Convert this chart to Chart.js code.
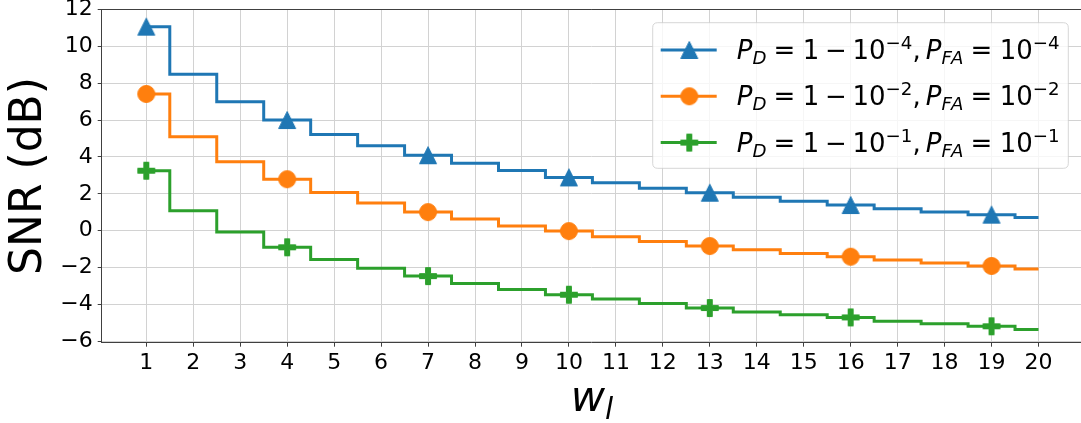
<!DOCTYPE html>
<html><head><meta charset="utf-8">
<script src="https://cdn.jsdelivr.net/npm/chart.js@4.4.1/dist/chart.umd.min.js"></script>
<style>
html,body{margin:0;padding:0;background:#fff;overflow:hidden}
#wrap{position:relative;width:1081px;height:423px}
#c{position:absolute;left:0;top:0}
.math{position:absolute;white-space:nowrap;line-height:0;font-family:'DejaVu Sans';color:#000}
.it{font-style:italic}
.sb{position:relative;font-size:70%}
.rel{margin:0 0.2777em}
.bin{margin:0 0.2222em}
.cm{margin-right:0.2em}
</style>
</head><body>
<div id="wrap">
<canvas id="c" width="1081" height="423"></canvas>
<div id="legtext"></div>
<div class="math" id="xlabel" style="left:592px;top:397px;font-size:42px;transform:translateX(-50%)"><span class="it">w</span><span class="sb it" style="top:7.6px">l</span></div>
</div>
<script>
// ---- data ----
const X = [1,2,3,4,5,6,7,8,9,10,11,12,13,14,15,16,17,18,19,20];
const SNR_PD4 = [11.06, 8.48, 6.99, 6.00, 5.22, 4.60, 4.09, 3.65, 3.26, 2.89, 2.60, 2.30, 2.06, 1.81, 1.59, 1.39, 1.19, 1.01, 0.87, 0.71];
const SNR_PD2 = [7.41, 5.09, 3.74, 2.79, 2.07, 1.50, 1.01, 0.64, 0.25, -0.02, -0.33, -0.58, -0.83, -1.03, -1.24, -1.41, -1.59, -1.75, -1.91, -2.08];
const SNR_PD1 = [3.25, 1.08, -0.07, -0.90, -1.56, -2.04, -2.46, -2.86, -3.18, -3.47, -3.70, -3.94, -4.19, -4.41, -4.56, -4.70, -4.91, -5.04, -5.18, -5.35];
const SERIES_EXP = ['4', '2', '1'];
const X_TICKS = [1,2,3,4,5,6,7,8,9,10,11,12,13,14,15,16,17,18,19,20];
const Y_TICKS = [-6,-4,-2,0,2,4,6,8,10,12];
const Y_TITLE = 'SNR (dB)';

// ---- styles ----
const COLORS = ['#1f77b4', '#ff7f0e', '#2ca02c'];
const FONT = 'DejaVu Sans';
const SPINE = '#404040';
const GRID = '#d2d2d2';

function makeMarker(kind, color) {
  const s = 20, m = s / 2;
  const c = document.createElement('canvas');
  c.width = s; c.height = s;
  const g = c.getContext('2d');
  g.fillStyle = color; g.strokeStyle = color; g.lineWidth = 1; g.lineJoin = 'miter';
  g.beginPath();
  if (kind === 'tri') {
    const h = 8.5;
    g.moveTo(m, m - h); g.lineTo(m - h, m + h); g.lineTo(m + h, m + h); g.closePath();
  } else if (kind === 'circ') {
    g.arc(m, m, 8.5, 0, Math.PI * 2);
  } else {
    const e = 8.5, w = 2.5;
    g.moveTo(m - w, m - e); g.lineTo(m + w, m - e); g.lineTo(m + w, m - w); g.lineTo(m + e, m - w);
    g.lineTo(m + e, m + w); g.lineTo(m + w, m + w); g.lineTo(m + w, m + e); g.lineTo(m - w, m + e);
    g.lineTo(m - w, m + w); g.lineTo(m - e, m + w); g.lineTo(m - e, m - w); g.lineTo(m - w, m - w);
    g.closePath();
  }
  g.fill(); g.stroke();
  return c;
}
const MARKERS = [makeMarker('tri', COLORS[0]), makeMarker('circ', COLORS[1]), makeMarker('plus', COLORS[2])];
const SERIES = [SNR_PD4, SNR_PD2, SNR_PD1];

const datasets = SERIES.map((ys, i) => ({
  label: 'P_D = 1 - 10^-' + SERIES_EXP[i] + ', P_FA = 10^-' + SERIES_EXP[i],
  data: X.map((x, j) => ({ x: x, y: ys[j] })),
  borderColor: COLORS[i],
  backgroundColor: COLORS[i],
  borderWidth: 3,
  stepped: 'middle',
  fill: false,
  pointStyle: MARKERS[i],
  pointRadius: ctx => (ctx.dataIndex % 3 === 0 ? 9 : 0),
  pointHoverRadius: 0,
  order: 2 - i
}));

// legend text (real HTML text)
const LEG_LEFT = 736.7, LEG_ROW0 = 50, LEG_PITCH = 46.3;
const legDiv = document.getElementById('legtext');
SERIES_EXP.forEach((e, i) => {
  const d = document.createElement('div');
  d.className = 'math';
  d.style.left = LEG_LEFT + 'px';
  d.style.top = (LEG_ROW0 + i * LEG_PITCH) + 'px';
  d.style.fontSize = '26px';
  d.innerHTML = '<span class="it">P</span><span class="sb it" style="top:5px">D</span>' +
    '<span class="rel">=</span>1<span class="bin">\u2212</span>10' +
    '<span class="sb" style="top:-10px">\u2212' + e + '</span><span class="cm">,</span>' +
    '<span class="it">P</span><span class="sb it" style="top:5px">FA</span>' +
    '<span class="rel">=</span>10<span class="sb" style="top:-10px">\u2212' + e + '</span>';
  legDiv.appendChild(d);
});

const deco = {
  id: 'deco',
  afterDraw(chart) {
    const { ctx, chartArea: a } = chart;
    ctx.save();
    // top spine
    ctx.strokeStyle = SPINE; ctx.lineWidth = 1;
    ctx.beginPath();
    const ty = Math.floor(a.top) + 0.5;
    ctx.moveTo(a.left, ty); ctx.lineTo(a.right + 5, ty); ctx.stroke();
    // legend box
    const bx = 652.7, by = 22.7, bw = 1068.3 - 652.7, bh = 168.3 - 22.7, r = 5;
    ctx.beginPath();
    ctx.moveTo(bx + r, by); ctx.lineTo(bx + bw - r, by); ctx.quadraticCurveTo(bx + bw, by, bx + bw, by + r);
    ctx.lineTo(bx + bw, by + bh - r); ctx.quadraticCurveTo(bx + bw, by + bh, bx + bw - r, by + bh);
    ctx.lineTo(bx + r, by + bh); ctx.quadraticCurveTo(bx, by + bh, bx, by + bh - r);
    ctx.lineTo(bx, by + r); ctx.quadraticCurveTo(bx, by, bx + r, by);
    ctx.closePath();
    ctx.fillStyle = 'rgba(255,255,255,0.8)'; ctx.fill();
    ctx.strokeStyle = 'rgba(204,204,204,0.8)'; ctx.lineWidth = 1; ctx.stroke();
    // handles
    chart.data.datasets.forEach((ds, i) => {
      const y = LEG_ROW0 + i * LEG_PITCH;
      ctx.strokeStyle = ds.borderColor; ctx.lineWidth = 3;
      ctx.beginPath(); ctx.moveTo(660.7, y); ctx.lineTo(716.7, y); ctx.stroke();
      const mk = ds.pointStyle;
      ctx.drawImage(mk, 689.3 - mk.width / 2, y - mk.height / 2);
    });
    ctx.restore();
  }
};

new Chart(document.getElementById('c'), {
  type: 'line',
  data: { datasets },
  options: {
    responsive: false,
    devicePixelRatio: 1,
    animation: false,
    events: [],
    layout: { autoPadding: false, padding: { top: 9.3, left: 0, right: 0, bottom: 0 } },
    plugins: { legend: { display: false }, tooltip: { enabled: false } },
    scales: {
      x: {
        type: 'linear', min: 0.05, max: 20.905,
        afterBuildTicks: s => { s.ticks = X_TICKS.map(v => ({ value: v })); },
        afterFit: s => { s.height = 80.3; s.paddingLeft = 0; s.paddingRight = 0; },
        ticks: { font: { family: FONT, size: 22 }, color: '#000', padding: 3, maxRotation: 0, autoSkip: false,
          callback: v => String(v) },
        grid: { color: GRID, lineWidth: 1, tickColor: SPINE, tickLength: 4, drawTicks: true },
        border: { display: true, color: SPINE, width: 1 }
      },
      y: {
        min: -6.07, max: 12,
        afterBuildTicks: s => { s.ticks = Y_TICKS.map(v => ({ value: v })); },
        afterFit: s => { s.width = 101.7; s.paddingTop = 0; s.paddingBottom = 0; },
        ticks: { font: { family: FONT, size: 22, lineHeight: 0.8 }, color: '#000', padding: 5,
          callback: v => (v < 0 ? '\u2212' : '') + Math.abs(v) },
        grid: { color: GRID, lineWidth: 1, tickColor: SPINE, tickLength: 4, drawTicks: true },
        border: { display: true, color: SPINE, width: 1 },
        title: { display: true, text: Y_TITLE, color: '#000', font: { family: FONT, size: 44 }, padding: { top: 3, bottom: 0 } }
      }
    }
  },
  plugins: [deco]
});
</script>
</body></html>
